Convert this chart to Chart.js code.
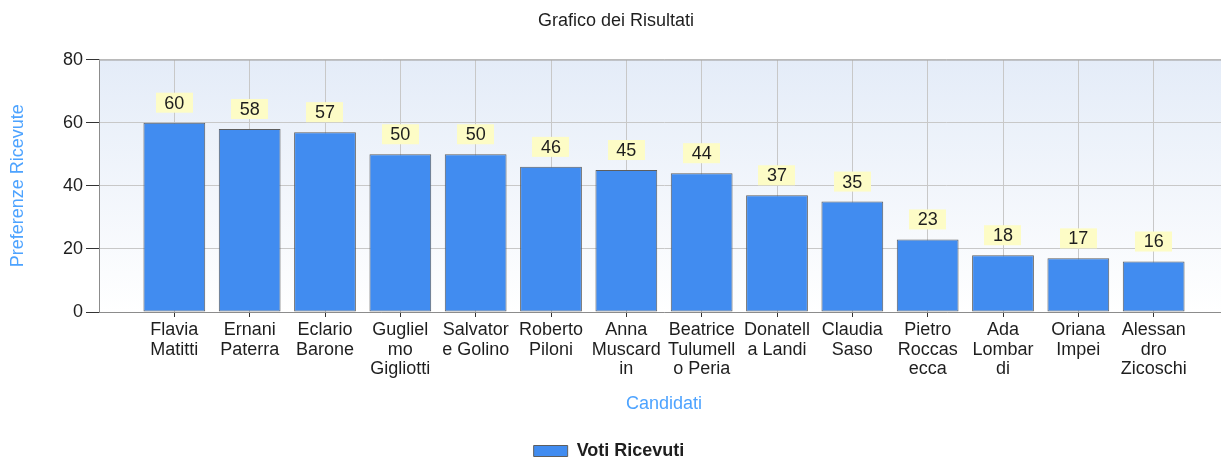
<!DOCTYPE html>
<html>
<head>
<meta charset="utf-8">
<script src="https://cdn.jsdelivr.net/npm/chart.js@4/dist/chart.umd.min.js"></script>
<style>
  html, body { margin: 0; padding: 0; background: #fff; overflow: hidden; }
  #wrap { width: 1232px; height: 463px; }
</style>
</head>
<body>
<div id="wrap"><canvas id="myBarChart" width="1232" height="463"></canvas></div>
<script>
// dati del grafico
const candidati = [
  ["Flavia", "Matitti"],
  ["Ernani", "Paterra"],
  ["Eclario", "Barone"],
  ["Gugliel", "mo", "Gigliotti"],
  ["Salvator", "e Golino"],
  ["Roberto", "Piloni"],
  ["Anna", "Muscard", "in"],
  ["Beatrice", "Tulumell", "o Peria"],
  ["Donatell", "a Landi"],
  ["Claudia", "Saso"],
  ["Pietro", "Roccas", "ecca"],
  ["Ada", "Lombar", "di"],
  ["Oriana", "Impei"],
  ["Alessan", "dro", "Zicoschi"],
];
const voti = [60, 58, 57, 50, 50, 46, 45, 44, 37, 35, 23, 18, 17, 16];
const yTicks = [0, 20, 40, 60, 80];
const nomeSerie = "Voti Ricevuti";

Chart.defaults.font.family = "'Liberation Sans', Arial, sans-serif";
Chart.defaults.font.size = 18;
Chart.defaults.color = "#1e1e1e";

// sfondo sfumato dell'area del grafico + bordo superiore
const sfondo = {
  id: "sfondo",
  afterLayout(chart) {
    // legenda un po' spostata a sinistra come nell'originale
    chart.legend.left -= 7;
    chart.legend.right -= 7;
  },
  beforeDraw(chart) {
    const { ctx, chartArea: a } = chart;
    const g = ctx.createLinearGradient(0, a.top, 0, a.bottom);
    g.addColorStop(0, "#e4ecf8");
    g.addColorStop(1, "#ffffff");
    ctx.save();
    ctx.fillStyle = g;
    ctx.fillRect(a.left, a.top, a.right - a.left, a.bottom - a.top);
    ctx.restore();
  },
  afterDraw(chart) {
    const { ctx, chartArea: a } = chart;
    ctx.save();
    ctx.strokeStyle = "#a6a6a6";
    ctx.lineWidth = 1;
    ctx.beginPath();
    ctx.moveTo(a.left, a.top + 0.5);
    ctx.lineTo(a.right, a.top + 0.5);
    ctx.stroke();
    ctx.restore();
  },
};

// etichette gialle sopra le barre
const etichette = {
  id: "etichette",
  afterDatasetsDraw(chart) {
    const { ctx } = chart;
    const meta = chart.getDatasetMeta(0);
    ctx.save();
    ctx.font = "18px 'Liberation Sans', Arial, sans-serif";
    ctx.textAlign = "center";
    ctx.textBaseline = "middle";
    meta.data.forEach((bar, i) => {
      const testo = String(voti[i]);
      const w = ctx.measureText(testo).width + 17;
      const h = 20;
      const bottom = bar.y - 10;
      ctx.fillStyle = "#fdfcc6";
      ctx.fillRect(Math.round(bar.x - w / 2), bottom - h, Math.round(w), h);
      ctx.fillStyle = "#1e1e1e";
      ctx.fillText(testo, bar.x, bottom - h / 2 + 1);
    });
    ctx.restore();
  },
};

const nascondiBordi = (c, colore) =>
  c.tick && (c.tick.value === 0 || c.tick.value === candidati.length + 1)
    ? "rgba(0,0,0,0)"
    : colore;

const ctx = document.getElementById("myBarChart").getContext("2d");
const myBarChart = new Chart(ctx, {
  type: "bar",
  data: {
    datasets: [
      {
        label: nomeSerie,
        data: voti.map((v, i) => ({ x: i + 1, y: v })),
        backgroundColor: "#418cf0",
        borderColor: "#5e5e5e",
        borderWidth: 1,
        borderSkipped: false,
        barPercentage: 0.82,
        categoryPercentage: 1,
      },
    ],
  },
  options: {
    responsive: false,
    animation: false,
    devicePixelRatio: 1,
    layout: { padding: { top: 0, left: 0, right: 0, bottom: -7 } },
    plugins: {
      title: {
        display: true,
        text: "Grafico dei Risultati",
        color: "#1e1e1e",
        font: { size: 18, weight: "normal" },
        padding: { top: 10, bottom: 28 },
      },
      legend: {
        position: "bottom",
        labels: {
          boxWidth: 34,
          boxHeight: 11,
          padding: 4,
          color: "#1e1e1e",
          font: { size: 18, weight: "bold", lineHeight: 1 },
        },
      },
      tooltip: { enabled: false },
    },
    scales: {
      x: {
        type: "linear",
        min: 0,
        max: candidati.length + 1,
        offset: false,
        afterFit: (s) => {
          s.height = 126;
        },
        grid: {
          offset: false,
          color: (c) => nascondiBordi(c, "#c8c8c8"),
          tickColor: (c) => nascondiBordi(c, "#333333"),
          tickLength: 5,
        },
        border: { color: "#8c8c8c" },
        ticks: {
          stepSize: 1,
          autoSkip: false,
          maxRotation: 0,
          minRotation: 0,
          padding: 3,
          color: "#1e1e1e",
          font: { size: 18, lineHeight: 1.1 },
          callback: (v) => candidati[v - 1] || "",
        },
        title: {
          display: true,
          text: "Candidati",
          color: "#4da3ff",
          font: { size: 18 },
          padding: { top: 0, bottom: 23 },
        },
      },
      y: {
        min: 0,
        max: 80,
        afterFit: (s) => {
          s.width = 99;
        },
        afterBuildTicks: (s) => {
          s.ticks = yTicks.map((v) => ({ value: v }));
        },
        grid: {
          color: "#c8c8c8",
          tickColor: "#333333",
          tickLength: 13,
        },
        border: { color: "#8c8c8c" },
        ticks: {
          padding: 3,
          color: "#1e1e1e",
          font: { size: 18 },
        },
        title: {
          display: true,
          text: "Preferenze Ricevute",
          color: "#4da3ff",
          font: { size: 18 },
          padding: { top: 7, bottom: 0 },
        },
      },
    },
  },
  plugins: [sfondo, etichette],
});
</script>
</body>
</html>
